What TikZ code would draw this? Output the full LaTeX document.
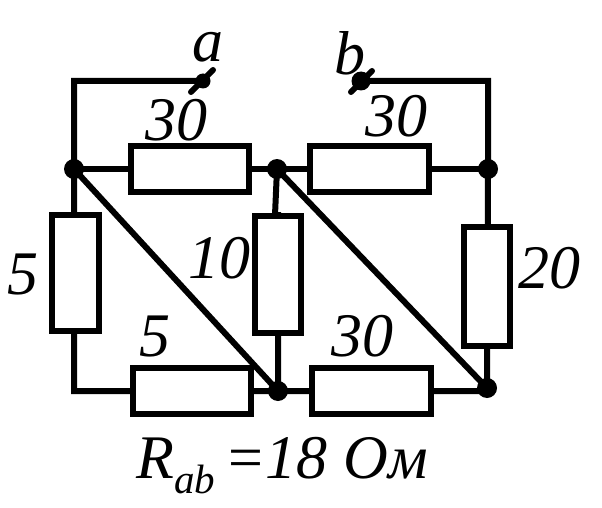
\documentclass[tikz,border=0pt]{standalone}
\usepackage{fontspec}
\setmainfont{Liberation Serif}
\begin{document}
\begin{tikzpicture}[x=1pt,y=-1pt,
 wire/.style={line width=6pt,line cap=round,line join=miter},
 res/.style={draw,line width=6pt,fill=white,inner sep=0pt,minimum width=#1},
 dot/.style={circle,fill=black,inner sep=0pt,minimum size=20pt},
 lab/.style={font=\itshape\fontsize{62}{62}\selectfont,inner sep=0pt,anchor=center}]
\useasboundingbox (0,0) rectangle (602,508);
\coordinate (tl) at (74,81);
\coordinate (tr) at (488,81);
\coordinate (bl) at (74,391);
\coordinate (br) at (487,391);
\node[dot] (n1) at (74,169) {};
\node[dot] (n2) at (277,169) {};
\node[dot] (n3) at (488,169) {};
\node[dot] (n4) at (278,391) {};
\node[dot] (n5) at (487,388) {};
\node[dot,minimum size=15pt] (a) at (203,81) {};
\node[dot,minimum size=19pt] (b) at (361,81) {};
\coordinate (a1) at (191,92); \coordinate (a2) at (213,70);
\coordinate (b1) at (351,92); \coordinate (b2) at (372,71);
\draw[wire] (a.center) -- (tl) -- (n1.center) -- (bl) -- (br) -- (n3.center) -- (tr) -- (b.center);
\draw[wire] (n1.center) -- (n2.center) -- (n3.center);
\draw[wire] (n1.center) -- (n4.center);
\draw[wire] (n2.center) -- (n5.center);
\draw[wire] (n2.center) -- (275,215) -- (278,215) -- (n4.center);
\draw[wire] (a1) -- (a2);
\draw[wire] (b1) -- (b2);
\node[res=118pt,minimum height=46pt] (r1) at (190,169) {};
\node[res=119pt,minimum height=46pt] (r2) at (369,169) {};
\node[res=47pt,minimum height=116pt] (r3) at (75,273) {};
\node[res=46pt,minimum height=117pt] (r4) at (278,274) {};
\node[res=46pt,minimum height=119pt] (r5) at (487,286) {};
\node[res=118pt,minimum height=46pt] (r6) at (192,391) {};
\node[res=119pt,minimum height=46pt] (r7) at (371,391) {};
\node[lab] (la) at (208,47) {a};
\node[lab] (lb) at (350,53) {b};
\node[lab] (l1) at (176,120) {30};
\node[lab] (l2) at (396,116) {30};
\node[lab] (l3) at (23,275) {5};
\node[lab] (l4) at (219,258) {10};
\node[lab] (l5) at (549,268) {20};
\node[lab] (l6) at (155,337) {5};
\node[lab] (l7) at (362,336) {30};
\node[lab,anchor=base west] (l8) at (136,478) {R\raisebox{-15pt}{\fontsize{41}{41}\selectfont ab}\hspace{9pt}=18 Ом};
\end{tikzpicture}
\end{document}
